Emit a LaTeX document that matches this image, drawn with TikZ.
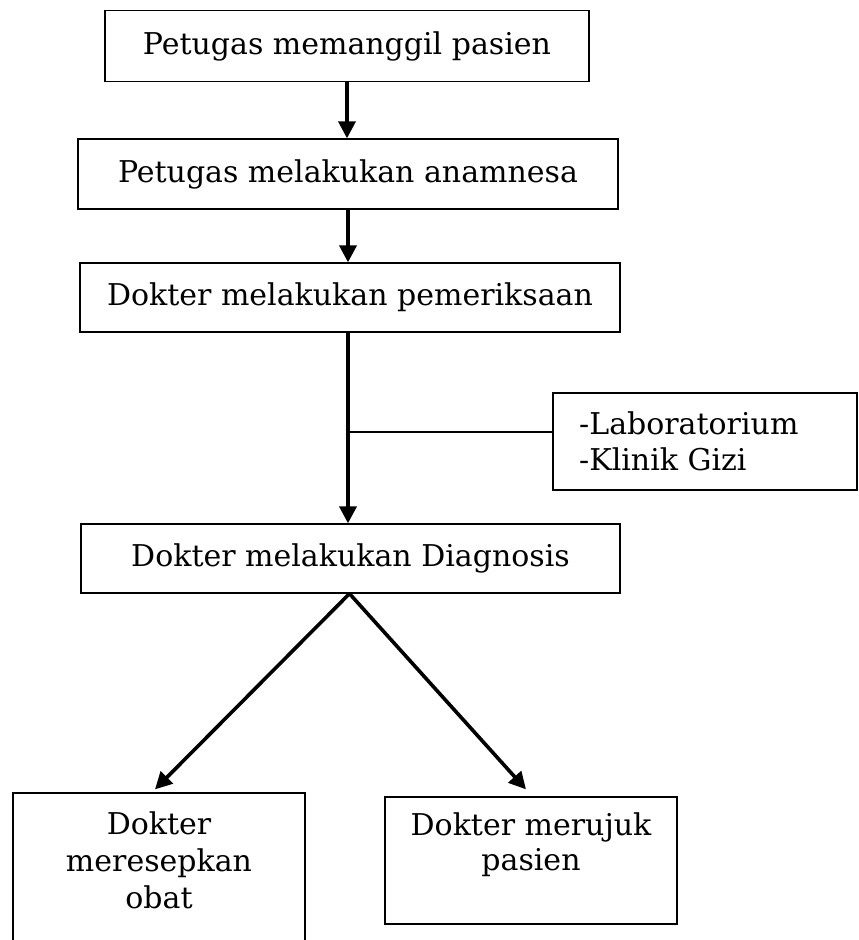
\documentclass[tikz,border=0pt]{standalone}
\usepackage{fontspec}
\setmainfont{DejaVu Serif}
\usetikzlibrary{arrows.meta}
\begin{document}
\begin{tikzpicture}[x=1pt,y=-1pt,
  box/.style={draw, line width=1.3pt, inner sep=0pt, font=\fontsize{30}{37}\selectfont},
  txt/.style={inner sep=0pt, font=\fontsize{30}{36}\selectfont},
  arr/.style={line width=3.6pt, -{Triangle[length=17pt,width=17pt]}},
  link/.style={line width=1.4pt}]
\useasboundingbox (0,0) rectangle (859,940);
\clip (0,0) rectangle (859,940);
% boxes
\node[box, minimum width=484pt, minimum height=71pt] (b1) at (347,46) {Petugas memanggil pasien};
\node[box, minimum width=540pt, minimum height=70pt] (b2) at (348,174) {Petugas melakukan anamnesa};
\node[box, minimum width=540pt, minimum height=69pt] (b3) at (350,297.5) {Dokter melakukan pemeriksaan};
\node[box, minimum width=304pt, minimum height=97pt] (side) at (705,441.5) {};
\node[txt, align=left, anchor=base west, font=\fontsize{30}{36}\selectfont] (sidetxt) at (579,470) {-Laboratorium\\-Klinik Gizi};
\node[box, minimum width=539pt, minimum height=69pt] (b4) at (350.5,558.5) {Dokter melakukan Diagnosis};
\node[box, minimum width=292pt, minimum height=157pt] (b5) at (159,871.5) {};
\node[txt, align=center, anchor=base, font=\fontsize{30}{37}\selectfont] (t5) at (159,908) {Dokter\\meresepkan\\obat};
\node[box, minimum width=292pt, minimum height=127pt] (b6) at (531,860.5) {};
\node[txt, align=center, anchor=base, font=\fontsize{30}{35}\selectfont] (t6) at (531,870) {Dokter merujuk\\pasien};
% connectors
\draw[arr] (b1.south) -- (b1.south |- b2.north);
\draw[arr] (b2.south) -- (b2.south |- b3.north);
\coordinate (top3) at ([xshift=-2pt]b3.south);
\draw[arr] (top3) -- (top3 |- b4.north);
\coordinate (j) at (348,432);
\draw[link] (j) -- (j -| side.west);
\draw[arr] ([xshift=-1pt]b4.south) -- ([shift={(-4,-3)}]b5.north);
\draw[arr] ([xshift=-1pt]b4.south) -- ([shift={(-5,-7)}]b6.north);
\end{tikzpicture}
\end{document}
